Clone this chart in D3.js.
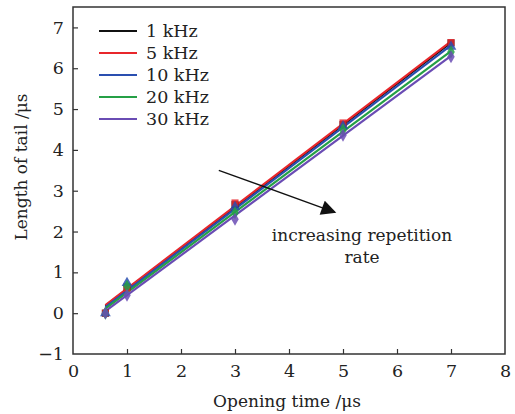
<!DOCTYPE html>
<html>
<head>
<meta charset="utf-8">
<script src="https://cdn.jsdelivr.net/npm/d3@7"></script>
<style>
  html, body { margin: 0; padding: 0; background: #fff; }
  svg { display: block; }
  text { font-family: "DejaVu Serif", "Liberation Serif", serif; fill: #222; }
</style>
</head>
<body>
<svg id="chart" width="515" height="414"></svg>
<script>
// Opening time (µs) at which the tail length was measured
const openingTimes = [0.6, 1, 3, 5, 7];

// Measured tail length (µs) per repetition rate
const seriesNames = ["1 kHz", "5 kHz", "10 kHz", "20 kHz", "30 kHz"];
const tail1k  = [0, 0.64, 2.66, 4.62, 6.62];
const tail5k  = [0, 0.62, 2.70, 4.66, 6.63];
const tail10k = [0, 0.74, 2.60, 4.58, 6.53];
const tail20k = [0, 0.66, 2.46, 4.49, 6.40];
const tail30k = [0, 0.44, 2.30, 4.36, 6.28];

// Linear fit lines, value at the first and last opening time
const fitStart = [0.18, 0.20, 0.15, 0.11, 0.05];
const fitEnd   = [6.63, 6.66, 6.56, 6.42, 6.30];

const colors = ["#111111", "#e8262b", "#2a4fb0", "#25a046", "#6a4cb4"];
const symbols = [d3.symbolSquare, d3.symbolSquare, d3.symbolTriangle, d3.symbolDiamond, d3.symbolDiamond];

const xTicks = [0, 1, 2, 3, 4, 5, 6, 7, 8];
const yTicks = [-1, 0, 1, 2, 3, 4, 5, 6, 7];

const tails = [tail1k, tail5k, tail10k, tail20k, tail30k];

const svg = d3.select("#chart");
const plotLeft = 73, plotRight = 505, plotTop = 7, plotBottom = 354;

const x = d3.scaleLinear().domain([0, 8]).range([plotLeft, plotRight]);
const y = d3.scaleLinear().domain([-1, 7.5]).range([plotBottom, plotTop]);

// Fit lines
tails.forEach((t, i) => {
  const x0 = openingTimes[0], x1 = openingTimes[openingTimes.length - 1];
  svg.append("line")
    .attr("x1", x(x0)).attr("y1", y(fitStart[i]))
    .attr("x2", x(x1)).attr("y2", y(fitEnd[i]))
    .attr("stroke", colors[i]).attr("stroke-width", 2.2);
});

// Data markers
tails.forEach((t, i) => {
  const sym = d3.symbol().type(symbols[i]).size(i === 4 ? 48 : 50);
  svg.append("g").selectAll("path")
    .data(openingTimes.map((ot, k) => [ot, t[k]]))
    .join("path")
    .attr("d", sym)
    .attr("transform", d => `translate(${x(d[0])},${y(d[1])})`)
    .attr("fill", colors[i])
    .attr("opacity", 0.85);
});

// Axes
const xAxis = d3.axisBottom(x).tickValues(xTicks).tickSize(-5).tickPadding(11)
  .tickFormat(d3.format("d"));
const yAxis = d3.axisLeft(y).tickValues(yTicks).tickSize(-5).tickPadding(9)
  .tickFormat(d => d < 0 ? "\u2212" + Math.abs(d) : d);

const gx = svg.append("g").attr("transform", `translate(0,${plotBottom})`).call(xAxis);
const gy = svg.append("g").attr("transform", `translate(${plotLeft},0)`).call(yAxis);
[gx, gy].forEach(g => {
  g.select(".domain").remove();
  g.selectAll(".tick line").attr("stroke", "#333").attr("stroke-width", 1.2);
  g.selectAll(".tick text").attr("font-size", 17.5).attr("fill", "#222")
    .style("font-family", "'DejaVu Serif', serif");
});
gx.selectAll(".tick").filter(d => d === 0 || d === 8).select("line").remove();
gy.selectAll(".tick").filter(d => d === -1).select("line").remove();

// Frame
svg.append("rect")
  .attr("x", plotLeft).attr("y", plotTop)
  .attr("width", plotRight - plotLeft).attr("height", plotBottom - plotTop)
  .attr("fill", "none").attr("stroke", "#333").attr("stroke-width", 1.5);

// Axis titles
svg.append("text")
  .attr("x", 287).attr("y", 407)
  .attr("text-anchor", "middle").attr("font-size", 17)
  .text("Opening time /\u03bcs");
svg.append("text")
  .attr("transform", "translate(27,167) rotate(-90)")
  .attr("text-anchor", "middle").attr("font-size", 17)
  .text("Length of tail /\u03bcs");

// Legend
const legend = svg.append("g");
seriesNames.forEach((name, i) => {
  const ly = 31 + i * 22;
  legend.append("line")
    .attr("x1", 99).attr("x2", 137).attr("y1", ly).attr("y2", ly)
    .attr("stroke", colors[i]).attr("stroke-width", 2.2);
  legend.append("text")
    .attr("x", 146).attr("y", ly + 6).attr("font-size", 17.5)
    .text(name);
});

// Annotation arrow
svg.append("defs").append("marker")
  .attr("id", "arrowhead").attr("viewBox", "0 0 10 10")
  .attr("refX", 9).attr("refY", 5)
  .attr("markerWidth", 16).attr("markerHeight", 15)
  .attr("markerUnits", "userSpaceOnUse")
  .attr("orient", "auto")
  .append("path").attr("d", "M0,0 L10,5 L0,10 Z").attr("fill", "#111");
svg.append("line")
  .attr("x1", x(2.7)).attr("y1", y(3.5))
  .attr("x2", x(4.85)).attr("y2", y(2.47))
  .attr("stroke", "#111").attr("stroke-width", 1.3)
  .attr("marker-end", "url(#arrowhead)");

svg.append("text")
  .attr("x", 362).attr("y", 241).attr("text-anchor", "middle").attr("font-size", 17)
  .text("increasing repetition");
svg.append("text")
  .attr("x", 362).attr("y", 263).attr("text-anchor", "middle").attr("font-size", 17)
  .text("rate");
</script>
</body>
</html>
